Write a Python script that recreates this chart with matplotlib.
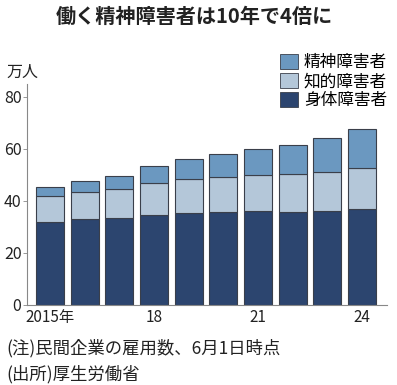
import matplotlib
matplotlib.use("Agg")
import matplotlib.pyplot as plt
from matplotlib.patches import Patch
import numpy as np

plt.rcParams['font.family'] = ['Noto Sans CJK JP', 'DejaVu Sans']

years = [2015, 2016, 2017, 2018, 2019, 2020, 2021, 2022, 2023, 2024]
tick_years = [2015, 2018, 2021, 2024]
tick_labels = ["2015年", "18", "21", "24"]
physical = [32.0, 32.8, 33.3, 34.6, 35.4, 35.6, 35.9, 35.8, 36.0, 36.8]
intellectual = [9.8, 10.5, 11.2, 12.1, 12.8, 13.4, 14.1, 14.6, 15.2, 15.8]
mental = [3.4, 4.2, 5.0, 6.7, 7.8, 8.8, 9.8, 11.0, 13.0, 15.1]
series_names = ["精神障害者", "知的障害者", "身体障害者"]

c_phys = "#2c456f"
c_int = "#b4c7d9"
c_men = "#6b98c0"
edge = "#3a3f4a"

fig = plt.figure(figsize=(3.97, 3.85), dpi=100)
ax = fig.add_axes([0.068, 0.208, 0.907, 0.575])

x = np.array(years)
w = 0.81
ax.bar(x, physical, w, color=c_phys, edgecolor=edge, linewidth=0.8)
ax.bar(x, intellectual, w, bottom=physical, color=c_int, edgecolor=edge, linewidth=0.8)
b2 = np.array(physical) + np.array(intellectual)
ax.bar(x, mental, w, bottom=b2, color=c_men, edgecolor=edge, linewidth=0.8)

ax.set_xlim(2015 - 0.66, 2024 + 0.72)
ax.set_ylim(0, 85)
ax.set_yticks([0, 20, 40, 60, 80])
ax.set_xticks(tick_years)
ax.set_xticklabels(tick_labels)
for s in ["top", "right"]:
    ax.spines[s].set_visible(False)
ax.spines["left"].set_color("#888888")
ax.spines["bottom"].set_color("#888888")
ax.spines["left"].set_linewidth(0.8)
ax.spines["bottom"].set_linewidth(0.8)
ax.tick_params(axis="y", length=3, width=0.6, color="#888888", labelsize=11.5, pad=1, labelcolor="#222222")
ax.tick_params(axis="x", length=0, labelsize=11, pad=3, labelcolor="#222222")

fig.text(0.49, 0.958, "働く精神障害者は10年で4倍に", ha="center", va="center",
         fontsize=14.5, fontweight="bold", color="#222222")
fig.text(0.016, 0.812, "万人", ha="left", va="center", fontsize=11.5, color="#222222")

handles = [Patch(facecolor=c_men, edgecolor=edge, linewidth=0.6),
           Patch(facecolor=c_int, edgecolor=edge, linewidth=0.6),
           Patch(facecolor=c_phys, edgecolor=edge, linewidth=0.6)]
fig.legend(handles, series_names, loc="upper right", bbox_to_anchor=(0.975, 0.86),
           frameon=False, fontsize=12, handlelength=1.1, handleheight=1.0,
           handletextpad=0.35, labelspacing=0.12, borderpad=0, borderaxespad=0)

fig.text(0.016, 0.095, "(注)民間企業の雇用数、6月1日時点", ha="left", va="center",
         fontsize=12.5, color="#222222")
fig.text(0.016, 0.028, "(出所)厚生労働省", ha="left", va="center",
         fontsize=12.5, color="#222222")

fig.savefig("out.png", dpi=100)
